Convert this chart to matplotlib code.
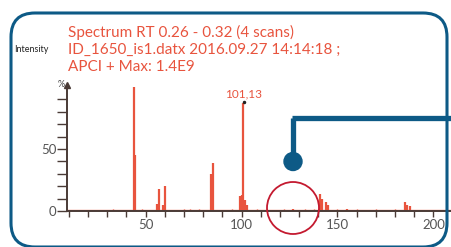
import matplotlib.pyplot as plt
from matplotlib.patches import FancyBboxPatch, Circle
from matplotlib.lines import Line2D

# spectrum sticks (m/z, relative intensity %)
peak_mz = [44, 44.6, 56, 57, 59, 60, 84, 85, 99, 100, 101, 102, 103,
           127, 141, 142, 144, 145, 155, 185, 186, 188]
peak_int = [100, 45, 6, 18, 5, 20, 30, 39, 12, 13, 87, 9, 5,
            2, 14, 10, 7.5, 5, 2, 7, 5, 4]
noise_mz = [15, 22, 28, 33, 38, 48, 52, 65, 70, 73, 78, 90, 95, 108, 113,
            118, 122, 133, 138, 150, 160, 165, 170, 175, 180, 195, 200, 205]
noise_int = [1, 1.2, 0.8, 1.5, 1, 1.5, 1, 1.2, 1.5, 2, 1.5, 1.2, 1.5, 1.5, 1,
             1.2, 2, 1.5, 2, 1.5, 2, 1.2, 1.5, 1, 1.5, 1, 1.2, 1]

header = ["Spectrum RT 0.26 - 0.32 (4 scans)",
          "ID_1650_is1.datx 2016.09.27 14:14:18 ;",
          "APCI + Max: 1.4E9"]
base_label = "101,13"

RED = "#e8543e"
BLUE = "#0d5a86"
AXC = "#4a3b36"
W, H = 452, 247

fig = plt.figure(figsize=(W / 100, H / 100), dpi=100)
plt.rcParams["font.family"] = ["Lato", "DejaVu Sans"]


def fx(px):
    return px / W


def fy(py):
    return 1 - py / H


ax = fig.add_axes([fx(67), fy(211), fx(W - 67), (211 - 87) / H])
ax.set_xlim(9, 209.7)
ax.set_ylim(0, 100)

ax.vlines(noise_mz, 0, noise_int, color=RED, lw=1.0)
ax.vlines(peak_mz, 0, peak_int, color=RED, lw=1.6)
ax.axhline(0.6, color=RED, lw=1.0, alpha=0.8)

for s in ["top", "right"]:
    ax.spines[s].set_visible(False)
for s in ["left", "bottom"]:
    ax.spines[s].set_color(AXC)
    ax.spines[s].set_linewidth(1.4)
ax.spines["left"].set_bounds(0, 101)

ax.set_yticks(range(0, 91, 10))
ax.set_yticklabels(["0", "", "", "", "", "50", "", "", "", ""])
ax.set_xticks(range(10, 210, 10))
ax.set_xticklabels([str(v) if v % 50 == 0 else "" for v in range(10, 210, 10)])
ax.tick_params(axis="y", length=7, width=1, color=AXC, labelcolor="#555555",
               labelsize=9.5, pad=0.5)
ax.tick_params(axis="x", length=4, width=1, color=AXC, labelcolor="#555555",
               labelsize=9.5, pad=2)

# arrow head on y axis and "%"
ax.plot([9], [101.5], marker="^", color=AXC, ms=4, clip_on=False)
ax.text(8.0, 102, "%", ha="right", va="center", fontsize=6.5, color="#444444",
        clip_on=False)

# base peak annotation
ax.plot([101.2], [88], marker="o", ms=1.5, color="#222222")
ax.text(101.2, 90, base_label, ha="center", va="bottom", fontsize=8.5, color=RED)

# header texts
for i, line in enumerate(header):
    fig.text(fx(68), fy(32 + 17.5 * i), line, ha="left", va="center",
             fontsize=11, color=RED)
fig.text(fx(14), fy(49), "Intensity", ha="left", va="center", fontsize=6.5,
         color="#222222")

# callout: blue connector and dot
fig.add_artist(Line2D([fx(293), fx(293)], [fy(118), fy(160)], color=BLUE,
                      lw=3.8, solid_capstyle="butt"))
fig.add_artist(Line2D([fx(291.6), fx(W)], [fy(118), fy(118)], color=BLUE,
                      lw=3.8, solid_capstyle="butt"))
fig.add_artist(Circle((293, H - 161.5), 9, transform=None, color=BLUE))

# red circle
fig.add_artist(Circle((293, H - 208), 26, transform=None, fill=False,
                      ec="#c41a30", lw=1.3))

# rounded frame
fig.add_artist(FancyBboxPatch((11, 0), 436, 234, transform=None,
                              boxstyle="round,pad=0,rounding_size=24",
                              fill=False, ec=BLUE, lw=2.2))

fig.savefig("out.png", dpi=100)
